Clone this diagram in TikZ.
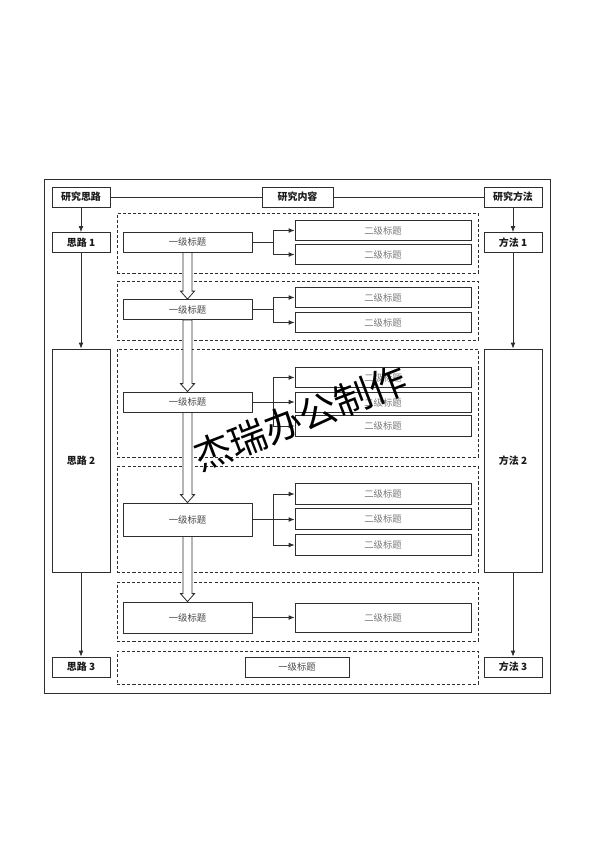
\documentclass[tikz,border=0pt]{standalone}
\usepackage{fontspec}
\usepackage{xcolor}
\usetikzlibrary{arrows.meta,positioning,calc}
\setmainfont{Liberation Serif}
\newfontfamily\cjk{Noto Sans CJK SC}
\definecolor{ink}{HTML}{1A1A1A}
\definecolor{edge}{HTML}{2E2E2E}
\definecolor{muted}{HTML}{7A7A7A}
\definecolor{soft}{HTML}{4A4A4A}

\newcommand{\hollowarrow}[2]{%
  \draw[hollow] let \p1=(#1.south), \p2=(#2.north) in
    (\x1-3.8pt,\y1) -- (\x1-3.8pt,\y2+6.8pt) -- (\x1-6pt,\y2+6.8pt) --
    (\x1,\y2) -- (\x1+6pt,\y2+6.8pt) -- (\x1+3.8pt,\y2+6.8pt) --
    (\x1+3.8pt,\y1) -- cycle;}

\begin{document}
\begin{tikzpicture}[
  x=0.03cm, y=-0.03cm,
  font=\cjk,
  >={Latex[length=5pt,width=4pt]},
  side/.style={
    draw=edge,
    line width=0.7pt,
    fill=white,
    minimum width=1.74cm,
    minimum height=0.6cm,
    inner sep=0pt,
    font=\cjk\fontsize{8.5}{10}\selectfont\bfseries,
    text=ink
  },
  group/.style={
    draw=edge,
    dashed,
    dash pattern=on 2.6pt off 1.8pt,
    line width=0.7pt,
    minimum width=10.83cm,
    inner sep=0pt
  },
  level/.style={
    draw=edge,
    line width=0.7pt,
    fill=white,
    minimum width=3.87cm,
    minimum height=0.6cm,
    inner sep=0pt,
    font=\cjk\fontsize{8}{10}\selectfont,
    text=soft
  },
  sub/.style={
    draw=edge,
    line width=0.7pt,
    fill=white,
    minimum width=5.28cm,
    minimum height=0.62cm,
    inner sep=0pt,
    font=\cjk\fontsize{8}{10}\selectfont,
    text=muted
  },
  link/.style={->, line width=0.7pt, draw=edge},
  plain/.style={line width=0.7pt, draw=edge},
  hollow/.style={draw=edge, line width=0.7pt, fill=white}
]

\path[use as bounding box] (0,0) rectangle (594,841);
\draw[line width=0.8pt, draw=edge] (44,179) rectangle (550,693);

% header row
\node[side] (idea) at (81,197) {研究思路};
\node[side, minimum width=2.13cm] (content) at (297.5,197) {研究内容};
\node[side] (method) at (513,197) {研究方法};
\draw[plain] (idea.east) -- (content.west);
\draw[plain] (content.east) -- (method.west);

% left column
\node[side] (idea1) at (81,242.5) {思路 1};
\node[side, minimum height=6.69cm] (idea2) at (81,460.5) {思路 2};
\node[side] (idea3) at (81,667) {思路 3};
\draw[link] (idea.south) -- (idea1.north);
\draw[link] (idea1.south) -- (idea2.north);
\draw[link] (idea2.south) -- (idea3.north);

% right column
\node[side] (method1) at (513,242.5) {方法 1};
\node[side, minimum height=6.69cm] (method2) at (513,460.5) {方法 2};
\node[side] (method3) at (513,667) {方法 3};
\draw[link] (method.south) -- (method1.north);
\draw[link] (method1.south) -- (method2.north);
\draw[link] (method2.south) -- (method3.north);

% dashed groups
\node[group, minimum height=1.80cm] (grp1) at (297.5,243) {};
\node[group, minimum height=1.77cm] (grp2) at (297.5,310.5) {};
\node[group, minimum height=3.24cm] (grp3) at (297.5,403) {};
\node[group, minimum height=3.18cm] (grp4) at (297.5,519) {};
\node[group, minimum height=1.77cm] (grp5) at (297.5,611.5) {};
\node[group, minimum height=0.99cm] (grp6) at (297.5,667.5) {};

% first-level titles
\node[level] (lvA) at (187.5,242) {一级标题};
\node[level] (lvB) at (187.5,309.5) {一级标题};
\node[level] (lvC) at (187.5,402) {一级标题};
\node[level, minimum height=0.99cm] (lvD) at (187.5,519.5) {一级标题};
\node[level, minimum height=0.93cm] (lvE) at (187.5,617.5) {一级标题};
\node[level, minimum width=3.12cm] (lvF) at (297,667) {一级标题};

% second-level titles
\node[sub] (subA1) at (383,230.5) {二级标题};
\node[sub] (subA2) at (383,254.5) {二级标题};
\node[sub] (subB1) at (383,297.5) {二级标题};
\node[sub] (subB2) at (383,322.5) {二级标题};
\node[sub] (subC1) at (383,377.5) {二级标题};
\node[sub] (subC2) at (383,402.5) {二级标题};
\node[sub] (subC3) at (383,426) {二级标题};
\node[sub] (subD1) at (383,494) {二级标题};
\node[sub] (subD2) at (383,519) {二级标题};
\node[sub] (subD3) at (383,545) {二级标题};
\node[sub, minimum height=0.87cm] (subE1) at (383,617.5) {二级标题};

% branches
\coordinate (jA) at ($(lvA.east)!.5!(lvA.east -| subA1.west)$);
\coordinate (jB) at ($(lvB.east)!.5!(lvB.east -| subB1.west)$);
\coordinate (jC) at ($(lvC.east)!.5!(lvC.east -| subC1.west)$);
\coordinate (jD) at ($(lvD.east)!.5!(lvD.east -| subD1.west)$);
\draw[plain] (lvA.east) -- (jA);
\draw[link] (jA) |- (subA1.west);
\draw[link] (jA) |- (subA2.west);
\draw[plain] (lvB.east) -- (jB);
\draw[link] (jB) |- (subB1.west);
\draw[link] (jB) |- (subB2.west);
\draw[link] (lvC.east) -- (lvC.east -| subC2.west);
\draw[link] (jC) |- (subC1.west);
\draw[link] (jC) |- (subC3.west);
\draw[link] (lvD.east) -- (lvD.east -| subD2.west);
\draw[link] (jD) |- (subD1.west);
\draw[link] (jD) |- (subD3.west);
\draw[link] (lvE.east) -- (subE1.west);

% hollow arrows between first-level titles
\hollowarrow{lvA}{lvB}
\hollowarrow{lvB}{lvC}
\hollowarrow{lvC}{lvD}
\hollowarrow{lvD}{lvE}

\node[rotate=21, font=\cjk\fontsize{32}{32}\selectfont, text=black] (mark) at (300,418) {杰瑞办公制作};

\end{tikzpicture}
\end{document}
